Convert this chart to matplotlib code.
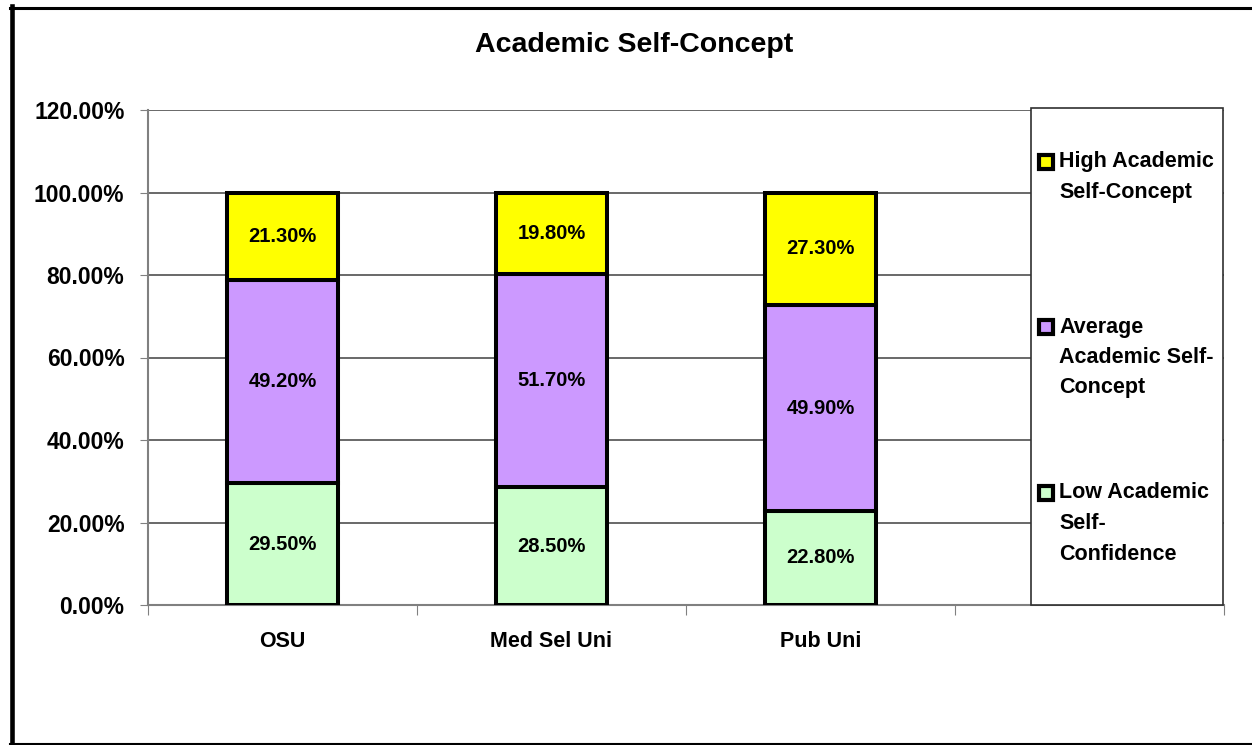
import numpy as np
import matplotlib.pyplot as plt
from matplotlib.patches import Rectangle
from matplotlib.lines import Line2D

plt.rcParams['font.family'] = ['Liberation Sans', 'DejaVu Sans']
plt.rcParams['font.weight'] = 'bold'

# Data
categories = ['OSU', 'Med Sel Uni', 'Pub Uni']
low = [29.5, 28.5, 22.8]
average = [49.2, 51.7, 49.9]
high = [21.3, 19.8, 27.3]
series_names = ['High Academic\nSelf-Concept', 'Average\nAcademic Self-\nConcept', 'Low Academic\nSelf-\nConfidence']
colors = {'low': '#CCFFCC', 'avg': '#CC99FF', 'high': '#FFFF00'}
y_ticks = [0, 20, 40, 60, 80, 100, 120]

W, H = 1252, 745
fig = plt.figure(figsize=(W / 100, H / 100), dpi=100)


def fx(x):
    return x / W


def fy(y):
    return 1 - y / H


ax = fig.add_axes([fx(148), fy(605), fx(1224) - fx(148), fy(110) - fy(605)])

x = np.arange(len(categories)) + 0.5
bw = 0.41
edge = dict(edgecolor='black', linewidth=2.9, zorder=3)
ax.bar(x, low, bw, color=colors['low'], **edge)
ax.bar(x, average, bw, bottom=low, color=colors['avg'], **edge)
ax.bar(x, high, bw, bottom=np.array(low) + np.array(average), color=colors['high'], **edge)

# data labels
for i in range(len(categories)):
    b = 0
    for vals in (low, average, high):
        ax.text(x[i], b + vals[i] / 2, f'{vals[i]:.2f}%', ha='center', va='center',
                fontsize=14.5, fontweight='bold', zorder=4)
        b += vals[i]

ax.set_xlim(0, 4)
ax.set_ylim(0, 120)
ax.set_yticks(y_ticks)
ax.set_yticklabels([f'{v:.2f}%' for v in y_ticks], fontsize=16.5, fontweight='bold')
ax.set_xticks([0, 1, 2, 3, 4])
ax.set_xticklabels([])
ax.set_xticks(x, minor=True)
ax.set_xticklabels(categories, minor=True, fontsize=15.5, fontweight='bold')
ax.tick_params(axis='x', which='minor', length=0, pad=19)
ax.tick_params(axis='x', which='major', length=7, color='#808080', direction='out')
ax.tick_params(axis='y', length=6, color='#808080', pad=11)
ax.yaxis.grid(True, color='#404040', linewidth=1.1, zorder=0)
ax.set_axisbelow(True)
for s in ['top', 'right']:
    ax.spines[s].set_visible(False)
for s in ['left', 'bottom']:
    ax.spines[s].set_color('#808080')
    ax.spines[s].set_linewidth(1.5)

# title
fig.text(fx(634), fy(45), 'Academic Self-Concept', ha='center', va='center',
         fontsize=20.5, fontweight='bold')

# legend box
fig.patches.append(Rectangle((fx(1031), fy(605)), fx(1223) - fx(1031), fy(108) - fy(605),
                             transform=fig.transFigure, facecolor='white',
                             edgecolor='#303030', linewidth=1.2, zorder=2))
leg_colors = [colors['high'], colors['avg'], colors['low']]
leg_y = [162, 327, 493]
for name, c, y0 in zip(series_names, leg_colors, leg_y):
    fig.add_artist(Line2D([fx(1046)], [fy(y0)], transform=fig.transFigure, marker='s',
                          markersize=10.5, markerfacecolor=c, markeredgecolor='black',
                          markeredgewidth=3, linestyle='none', zorder=5))
    for k, line in enumerate(name.split('\n')):
        fig.text(fx(1059), fy(y0 + 30.5 * k), line, ha='left', va='center',
                 fontsize=15.5, fontweight='bold', zorder=5)

# outer frame
fig.add_artist(Line2D([fx(11.7), fx(11.7)], [fy(6), fy(745)], transform=fig.transFigure,
                      color='black', linewidth=3.3))
fig.add_artist(Line2D([fx(10), fx(1252)], [fy(7.5), fy(7.5)], transform=fig.transFigure,
                      color='black', linewidth=2.2))
fig.add_artist(Line2D([fx(10), fx(1252)], [fy(743.5), fy(743.5)], transform=fig.transFigure,
                      color='black', linewidth=1.5))

fig.savefig('out.png', dpi=100)
